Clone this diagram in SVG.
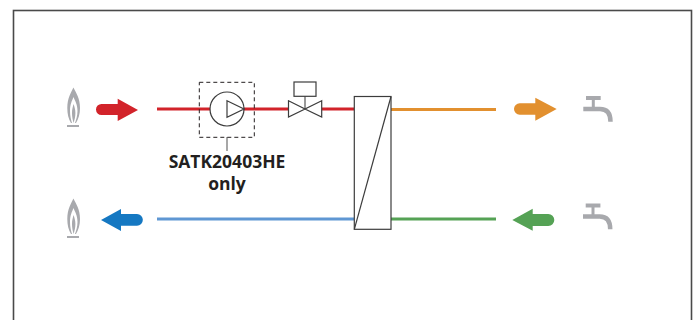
<svg xmlns="http://www.w3.org/2000/svg" width="700" height="320" viewBox="0 0 700 320">
<style>
.pipe{fill:none;stroke-width:3}
.sym{fill:#fff;stroke:#3c3c3c;stroke-width:1.2}
.grey{fill:none;stroke:#a8a9ad;stroke-linecap:butt}
.lbl{font-family:"Open Sans","Liberation Sans",sans-serif;font-weight:700;font-size:17.500px;fill:#231f20;text-anchor:middle}
</style>
<defs>
<g id="flame">
<path d="M73.400 87.500C71 93 67.300 98 67.300 108C67.300 114 68.500 119 71 123H76C78.500 119 80 114 80 108C80 98 76 93 73.400 87.500Z" fill="#a8a9ad"/>
<path d="M73.500 97C72 101 70 104 70 111C70 116 71 120 72 123H75C76 120 77.500 116 77.500 111C77.500 104 75 101 73.500 97Z" fill="#fff"/>
<path d="M73.600 104C72.800 107 72 109 72 113C72 117 72.800 120 73.600 123C74.400 120 75.400 117 75.400 113C75.400 109 74.400 107 73.600 104Z" fill="#a8a9ad"/>
<rect x="67" y="125" width="12" height="2" fill="#a8a9ad"/>
</g>
<g id="tap">
<path class="grey" stroke-width="4" d="M586 98H600.700"/>
<path class="grey" stroke-width="3" d="M593.300 98V108"/>
<path class="grey" stroke-width="4.500" d="M583.300 109H600C607 109 610.500 113 610.500 121.700"/>
</g>
</defs>
<rect x="13.500" y="10.500" width="678" height="320" fill="#fff" stroke="#4a4a4a" stroke-width="1.600"/>
<g id="connectors">
<path class="pipe" stroke="#d2232a" d="M157 109H211M243 109H289M321 109H354"/>
<path class="pipe" stroke="#e2902f" d="M391 109.500H496"/>
<path class="pipe" stroke="#5f97d3" d="M157 219H354"/>
<path class="pipe" stroke="#55a255" d="M391 219H496"/>
<path fill="none" stroke="#8a8a8a" stroke-width="1.500" d="M227 137V151"/>
</g>
<g id="flame-top"><use href="#flame"/></g>
<g id="flame-bottom"><use href="#flame" y="111"/></g>
<g id="arrow-red"><path fill="#d2232a" d="M101.500 104H117.700V98.700L138 110L117.700 121V115H101.500A5.500 5.500 0 0 1 101.500 104Z"/></g>
<g id="arrow-blue"><path fill="#1578c2" d="M137 214H121V209L101 220L121 231V225.700H137A5.800 5.800 0 0 0 137 214Z"/></g>
<g id="arrow-orange"><path fill="#e2902f" d="M519.700 103.300H535.300V97.700L556.700 109L535.300 120.700V114.700H519.700A5.700 5.700 0 0 1 519.700 103.300Z"/></g>
<g id="arrow-green"><path fill="#55a255" d="M548.300 214H532.700V208.700L512.300 220L532.700 230.700V226H548.300A6 6 0 0 0 548.300 214Z"/></g>
<g id="pump">
<rect x="199.300" y="82.300" width="55" height="55" fill="none" stroke="#231f20" stroke-width="1" stroke-dasharray="4 3"/>
<circle class="sym" cx="227" cy="109" r="17"/>
<path class="sym" fill="none" d="M227 100.700L244 109L227 117.300Z"/>
</g>
<g id="label"><text class="lbl" x="227" y="168">SATK20403HE</text><text class="lbl" x="227" y="190">only</text></g>
<g id="valve">
<path d="M305 96V109" fill="none" stroke="#777" stroke-width="1.500"/>
<rect class="sym" x="294" y="82" width="22" height="14.300"/>
<path class="sym" d="M288.500 100.700L305 109L288.500 117ZM321.700 100.700L305 109L321.700 117Z"/>
</g>
<g id="exchanger">
<rect class="sym" x="354.300" y="96.500" width="36.700" height="132.800" stroke-width="1.400"/>
<path d="M391 96.500L354.300 229.300" fill="none" stroke="#3c3c3c" stroke-width="1.200"/>
</g>
<g id="tap-top"><use href="#tap"/></g>
<g id="tap-bottom"><use href="#tap" x="-0.300" y="107.500"/></g>
</svg>
